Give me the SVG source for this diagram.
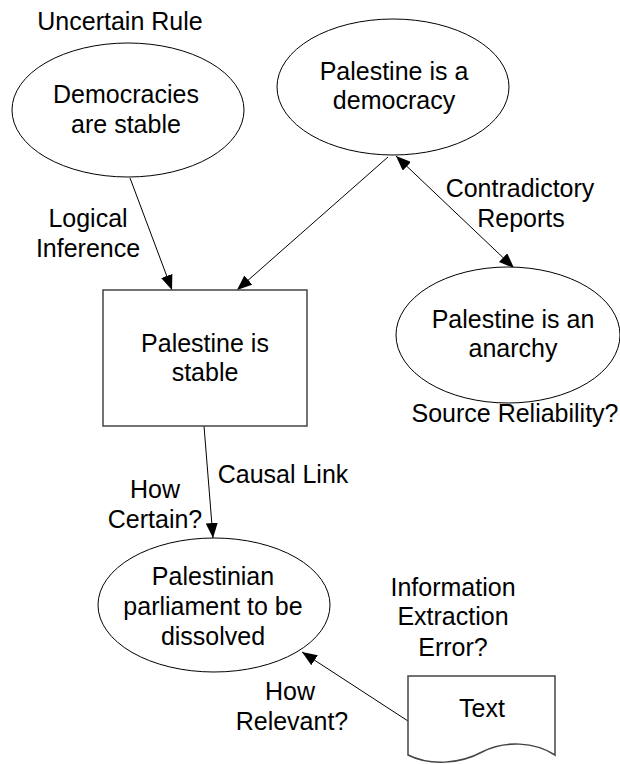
<svg xmlns="http://www.w3.org/2000/svg" width="620" height="764" viewBox="0 0 620 764">
  <style>
    text { font-family: "Liberation Sans", Arial, sans-serif; font-size: 25px; fill: #000; text-anchor: middle; }
    .shape { fill: #fff; stroke: #000; stroke-width: 1; }
    .box { fill: #fff; stroke: #444; stroke-width: 1.5; }
    .edge { fill: none; stroke: #000; stroke-width: 1; }
  </style>
  <defs>
    <marker id="arrow" markerUnits="userSpaceOnUse" markerWidth="16" markerHeight="12" refX="15" refY="6" orient="auto-start-reverse">
      <path d="M0,0 L15,6 L0,12 Z" fill="#000"/>
    </marker>
  </defs>

  <rect width="620" height="764" fill="#fff"/>

  <!-- connectors -->
  <g id="connectors">
    <line class="edge" x1="130" y1="178" x2="172" y2="290" marker-end="url(#arrow)"/>
    <line class="edge" x1="388" y1="157" x2="237" y2="290" marker-end="url(#arrow)"/>
    <line class="edge" x1="396" y1="156" x2="514" y2="268" marker-start="url(#arrow)" marker-end="url(#arrow)"/>
    <line class="edge" x1="204" y1="426" x2="213" y2="538" marker-end="url(#arrow)"/>
    <line class="edge" x1="408" y1="721" x2="302" y2="652" marker-end="url(#arrow)"/>
  </g>

  <!-- free labels -->
  <g id="labels">
    <text x="120" y="30">Uncertain Rule</text>
    <text x="88" y="227">Logical</text>
    <text x="88" y="257">Inference</text>
    <text x="520" y="197">Contradictory</text>
    <text x="521" y="227">Reports</text>
    <text x="515" y="422">Source Reliability?</text>
    <text x="283" y="483">Causal Link</text>
    <text x="155" y="498">How</text>
    <text x="155" y="528">Certain?</text>
    <text x="453" y="596">Information</text>
    <text x="453" y="625">Extraction</text>
    <text x="453" y="656">Error?</text>
    <text x="290" y="700">How</text>
    <text x="292" y="730">Relevant?</text>
  </g>

  <!-- nodes -->
  <g id="node-democracies">
    <ellipse class="shape" cx="128" cy="110" rx="116" ry="67"/>
    <text x="126" y="103">Democracies</text>
    <text x="126" y="133">are stable</text>
  </g>

  <g id="node-democracy">
    <ellipse class="shape" cx="393" cy="87" rx="116" ry="68"/>
    <text x="394" y="80">Palestine is a</text>
    <text x="394" y="109">democracy</text>
  </g>

  <g id="node-stable">
    <rect class="box" x="103" y="290" width="204" height="136"/>
    <text x="205" y="352">Palestine is</text>
    <text x="205" y="381">stable</text>
  </g>

  <g id="node-anarchy">
    <ellipse class="shape" cx="508" cy="335" rx="112" ry="68"/>
    <text x="513" y="328">Palestine is an</text>
    <text x="513" y="357">anarchy</text>
  </g>

  <g id="node-parliament">
    <ellipse class="shape" cx="214" cy="605" rx="116" ry="67"/>
    <text x="213" y="585">Palestinian</text>
    <text x="213" y="615">parliament to be</text>
    <text x="213" y="645">dissolved</text>
  </g>

  <g id="node-text">
    <path class="box" d="M408,676 H555 V755 C535,742 505,740 482,752 C460,764 430,766 408,755 Z"/>
    <text x="482" y="717">Text</text>
  </g>
</svg>
